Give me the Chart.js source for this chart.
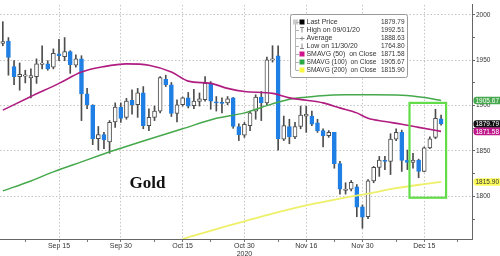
<!DOCTYPE html>
<html lang="en">
<head>
<meta charset="UTF-8">
<script src="https://cdn.jsdelivr.net/npm/chart.js"></script>
<title>Gold</title>
<style>
  html, body { margin: 0; padding: 0; background: #fff; }
  #wrap { width: 500px; height: 256px; }
</style>
</head>
<body>
<div id="wrap"><canvas id="myChart"></canvas></div>
<script>
// trading days on the axis (weekdays), the last week is empty
const days = [
  'Sep 1','Sep 2','Sep 3','Sep 4','Sep 7','Sep 8','Sep 9','Sep 10','Sep 11','Sep 14','Sep 15','Sep 16','Sep 17','Sep 18',
  'Sep 21','Sep 22','Sep 23','Sep 24','Sep 25','Sep 28','Sep 29','Sep 30',
  'Oct 1','Oct 2','Oct 5','Oct 6','Oct 7','Oct 8','Oct 9','Oct 12','Oct 13','Oct 14','Oct 15','Oct 16',
  'Oct 19','Oct 20','Oct 21','Oct 22','Oct 23','Oct 26','Oct 27','Oct 28','Oct 29','Oct 30',
  'Nov 2','Nov 3','Nov 4','Nov 5','Nov 6','Nov 9','Nov 10','Nov 11','Nov 12','Nov 13','Nov 16','Nov 17','Nov 18','Nov 19','Nov 20',
  'Nov 23','Nov 24','Nov 25','Nov 26','Nov 27','Nov 30',
  'Dec 1','Dec 2','Dec 3','Dec 4','Dec 7','Dec 8','Dec 9','Dec 10','Dec 11','Dec 14','Dec 15','Dec 16','Dec 17','Dec 18',
  'Dec 21','Dec 22','Dec 23','Dec 24','Dec 25'
];

const opens = [
  1968.5,1971,1943,1932,1932.5,1930.5,1932,1945.5,1946,1942.5,1957,1954,1959.5,1944.5,
  1951.5,1913,1900.5,1863.5,1868,1860,1882,1898.5,
  1887,1906,1901,1914,1878,1887,1894,1929,1923,1891.5,1901,1908.5,
  1900,1904.5,1906.5,1924.5,1904,1903.5,1903,1908.5,1877,1867.5,
  1878,1894,1909.5,1903,1950.5,1955,1863,1877,1865.5,1877,1888.5,1888.5,1881,1872.5,1867,
  1870.5,1836,1806.5,1808,1810.5,1788.5,
  1777.5,1817,1832,1840,1838.5,1863,1870.5,1840,1837.5,1840,1827.5,1853.5,1865,1885.5
];
const highs = [
  1992.5,1975,1949.5,1947,1939,1940.5,1951.5,1966,1949.5,1962.5,1973,1975,1960.5,1956,
  1955,1919,1901,1877,1870.5,1883.5,1903,1903,
  1908,1917.5,1919,1921,1896.5,1899.5,1932,1933.5,1925.5,1906.5,1909.5,1914.5,
  1918,1914,1932,1926.5,1910,1908.5,1910,1909,1880,1881.5,
  1894,1912,1915.5,1953.5,1966,1966,1888.5,1885,1881.5,1899.5,1899.5,1894,1885,1874.5,1872.5,
  1870.5,1838.5,1815,1817.5,1813,1790.5,
  1818.5,1833,1844,1844,1869,1874.5,1873,1851,1847.5,1841,1854.5,1865.5,1896,1889.5
];
const lows = [
  1966,1933.5,1923,1917,1925,1908.5,1924.5,1940.5,1939,1940.5,1949.5,1949.5,1935.5,1942.5,
  1883.5,1896.5,1857,1851,1852.5,1847.5,1876,1881.5,
  1885,1890.5,1887,1874.5,1872.5,1883.5,1892,1921,1888,1882,1899.5,1897.5,
  1896.5,1899.5,1905,1896,1894,1892,1901,1875,1861.5,1865,
  1872.5,1885,1883.5,1901,1948,1851,1861.5,1858,1863.5,1874.5,1870.5,1878,1870.5,1854.5,1865,
  1831,1802.5,1802.5,1806,1777.5,1764.8,
  1775.5,1815,1822,1829.5,1824,1861.5,1827.5,1829.5,1831,1820.5,1827,1852.5,1863.5,1878.5
];
const closes = [
  1970.5,1953,1932,1934.5,1934,1933,1946,1947,1940.5,1957.5,1955,1959.5,1945,1951.5,
  1913,1901,1863.5,1868,1862.5,1881.5,1898.5,1886,
  1905,1901,1914,1878,1887,1894,1931,1923,1891.5,1901,1908.5,1899.5,
  1905,1907.5,1924.5,1905,1903,1902.5,1907.5,1877,1868,1879.5,
  1892,1909.5,1903,1950.5,1951.5,1863.5,1878,1865.5,1877,1889.5,1890.5,1879.5,1872.5,1866.5,1870.5,
  1836,1808,1808,1815.5,1788,1777,
  1817,1832,1840,1838.5,1863,1870.5,1839.5,1837.5,1840,1827.5,1853.5,1863.5,1886,1879.79
];

// moving averages at a few dates
const sma50 = [
  {x:'Sep 1',y:1895},{x:'Sep 8',y:1910},{x:'Sep 15',y:1924.5},{x:'Sep 21',y:1937},{x:'Sep 25',y:1943},
  {x:'Oct 1',y:1946},{x:'Oct 7',y:1944.5},{x:'Oct 13',y:1937},{x:'Oct 16',y:1927},{x:'Oct 22',y:1924.5},
  {x:'Oct 27',y:1919},{x:'Oct 30',y:1915.5},{x:'Nov 6',y:1913.5},{x:'Nov 11',y:1908.5},{x:'Nov 16',y:1906},
  {x:'Nov 19',y:1903},{x:'Nov 24',y:1897.5},{x:'Nov 27',y:1892},{x:'Dec 1',y:1886},{x:'Dec 4',y:1882.5},
  {x:'Dec 9',y:1879.5},{x:'Dec 14',y:1876},{x:'Dec 18',y:1871.58}
];
const sma100 = [
  {x:'Sep 1',y:1806},{x:'Sep 8',y:1817},{x:'Sep 14',y:1827},{x:'Sep 21',y:1838},{x:'Sep 29',y:1851},
  {x:'Oct 7',y:1863},{x:'Oct 15',y:1874.5},{x:'Oct 23',y:1886},{x:'Oct 30',y:1892},{x:'Nov 4',y:1898},
  {x:'Nov 11',y:1907},{x:'Nov 18',y:1910.5},{x:'Nov 25',y:1912},{x:'Dec 2',y:1912},{x:'Dec 9',y:1911.5},
  {x:'Dec 15',y:1909},{x:'Dec 18',y:1905.67}
];
const sma200 = [
  {x:'Oct 15',y:1753},{x:'Oct 23',y:1764},{x:'Oct 30',y:1772.5},{x:'Nov 6',y:1781},{x:'Nov 16',y:1790},
  {x:'Nov 24',y:1797.5},{x:'Dec 1',y:1803},{x:'Dec 8',y:1809},{x:'Dec 15',y:1813.5},{x:'Dec 18',y:1815.9}
];

const priceTicks = [1775, 1800, 1825, 1850, 1875, 1900, 1925, 1950, 1975, 2000];
const majorDates = { 'Sep 15': 'Sep 15', 'Sep 30': 'Sep 30', 'Oct 15': 'Oct 15', 'Oct 30': ['Oct 30', '2020'],
  'Nov 16': 'Nov 16', 'Nov 30': 'Nov 30', 'Dec 15': 'Dec 15' };
const minorDates = ['Sep 7', 'Sep 22', 'Oct 8', 'Oct 22', 'Nov 9', 'Nov 23', 'Dec 8', 'Dec 23'];

const legendLabels = ['Last Price', 'High on 09/01/20', 'Average', 'Low on 11/30/20',
  'SMAVG (50)  on Close', 'SMAVG (100)  on Close', 'SMAVG (200)  on Close'];
const legendValues = ['1879.79', '1992.51', '1888.63', '1764.80', '1871.58', '1905.67', '1815.90'];
const tagValues = [1905.67, 1879.79, 1871.58, 1815.90];
const boxDates = ['Dec 11', 'Dec 18'];
const boxPrices = [1798.5, 1903];

const BLUE = '#1f7fe4';
const WICK = '#4d4d4d';
const MAGENTA = '#b01c80';
const GREEN = '#45a84c';
const YELLOW = '#eef06a';
const FONT = '"Liberation Sans", Arial, sans-serif';

const isUp = i => closes[i] >= opens[i];

const overlay = {
  id: 'overlay',
  afterDraw(chart) {
    const { ctx, scales: { x, y } } = chart;
    ctx.save();

    // green highlight around the last days
    const bx1 = x.getPixelForValue(days.indexOf(boxDates[0])) - 3.5;
    const bx2 = x.getPixelForValue(days.indexOf(boxDates[1])) + 5;
    const by1 = y.getPixelForValue(boxPrices[1]);
    const by2 = y.getPixelForValue(boxPrices[0]);
    ctx.strokeStyle = '#62dc48';
    ctx.lineWidth = 2.2;
    ctx.strokeRect(bx1, by1, bx2 - bx1, by2 - by1);

    // "Gold" title
    ctx.fillStyle = '#111';
    ctx.font = 'bold 17px "Liberation Serif", "Times New Roman", serif';
    ctx.textBaseline = 'alphabetic';
    ctx.textAlign = 'left';
    ctx.fillText('Gold', 129.5, 188);

    // legend box
    ctx.fillStyle = '#fff';
    ctx.strokeStyle = '#9a9a9a';
    ctx.lineWidth = 1;
    ctx.beginPath();
    ctx.roundRect(290.5, 14.5, 117, 63, 2);
    ctx.fill();
    ctx.stroke();

    ctx.strokeStyle = '#b5b5b5';
    ctx.beginPath();
    ctx.moveTo(295.5, 22);
    ctx.lineTo(295.5, 70);
    ctx.stroke();
    ctx.fillStyle = '#ccc';
    ctx.fillRect(293, 19.5, 5, 5);

    const swatch = ['#000', null, null, null, '#d0158c', '#2aa844', '#f7f740'];
    ctx.font = '7px ' + FONT;
    ctx.textBaseline = 'middle';
    legendLabels.forEach((label, i) => {
      const ry = 22 + i * 8;
      ctx.strokeStyle = '#b5b5b5';
      ctx.beginPath();
      ctx.moveTo(295.5, ry + 0.5);
      ctx.lineTo(299, ry + 0.5);
      ctx.stroke();
      if (swatch[i]) {
        ctx.fillStyle = swatch[i];
        ctx.fillRect(299.5, ry - 2.5, 5, 5);
      } else {
        ctx.strokeStyle = '#888';
        ctx.beginPath();
        if (i === 1) { ctx.moveTo(300, ry - 2.5); ctx.lineTo(304, ry - 2.5); ctx.moveTo(302, ry - 2.5); ctx.lineTo(302, ry + 2.5); }
        if (i === 2) { ctx.moveTo(299.5, ry + 0.5); ctx.lineTo(304.5, ry + 0.5); ctx.moveTo(302, ry - 1.5); ctx.lineTo(302, ry + 2.5); }
        if (i === 3) { ctx.moveTo(300, ry + 2.5); ctx.lineTo(304, ry + 2.5); ctx.moveTo(302, ry - 2.5); ctx.lineTo(302, ry + 2.5); }
        ctx.stroke();
      }
      ctx.fillStyle = '#333';
      ctx.textAlign = 'left';
      ctx.fillText(label, 306.5, ry + 0.5, i >= 4 ? 70 : 72);
      ctx.textAlign = 'right';
      ctx.fillText(legendValues[i], 404.5, ry + 0.5, 23.5);
    });

    // price tags on the right axis
    const tagFill = [GREEN, '#111', '#c0188a', '#fbfb5a'];
    const tagText = ['#fff', '#fff', '#fff', '#333'];
    ctx.font = '6.5px ' + FONT;
    ctx.textAlign = 'left';
    tagValues.forEach((v, i) => {
      const ty = y.getPixelForValue(v);
      ctx.fillStyle = tagFill[i];
      ctx.beginPath();
      ctx.roundRect(473.5, ty - 3.8, 30, 7.6, 3);
      ctx.fill();
      ctx.fillStyle = tagText[i];
      ctx.fillText(v.toFixed(2), 475.5, ty + 0.3);
    });

    ctx.restore();
  }
};

new Chart('myChart', {
  type: 'bar',
  data: {
    labels: days,
    datasets: [
      { type: 'line', data: sma50, borderColor: MAGENTA, borderWidth: 1.6, pointRadius: 0,
        cubicInterpolationMode: 'monotone', order: 0 },
      { type: 'line', data: sma100, borderColor: GREEN, borderWidth: 1.5, pointRadius: 0,
        cubicInterpolationMode: 'monotone', order: 0 },
      { type: 'line', data: sma200, borderColor: YELLOW, borderWidth: 1.8, pointRadius: 0,
        cubicInterpolationMode: 'monotone', order: 0 },
      { data: opens.map((o, i) => [o, closes[i]]), grouped: false, order: 1,
        barThickness: 4, minBarLength: 1, borderWidth: 1, borderSkipped: false,
        backgroundColor: c => isUp(c.dataIndex) ? '#fff' : BLUE,
        borderColor: c => isUp(c.dataIndex) ? WICK : BLUE },
      { data: lows.map((l, i) => [l, highs[i]]), grouped: false, order: 2,
        barThickness: 1, backgroundColor: WICK }
    ]
  },
  options: {
    responsive: true,
    maintainAspectRatio: false,
    animation: false,
    layout: { padding: 0 },
    plugins: { legend: { display: false }, tooltip: { enabled: false } },
    scales: {
      x: {
        offset: true,
        afterFit: s => { s.height = 17; },
        grid: {
          offset: false,
          color: c => majorDates[days[c.index]] ? '#c4c4c4' : 'rgba(0,0,0,0)',
          tickColor: c => (majorDates[days[c.index]] || minorDates.includes(days[c.index])) ? '#777' : 'rgba(0,0,0,0)',
          tickLength: 3
        },
        border: { color: '#666', dash: [1.5, 2] },
        ticks: {
          autoSkip: false, maxRotation: 0, padding: 0, color: '#333',
          font: { family: FONT, size: 7, lineHeight: 1.15 },
          callback: (v, i) => majorDates[days[i]] || ''
        }
      },
      y: {
        position: 'right',
        min: 1753,
        max: 2011,
        afterFit: s => { s.width = 28; },
        afterBuildTicks: s => { s.ticks = priceTicks.map(v => ({ value: v })); },
        grid: {
          color: c => c.tick && c.tick.value % 50 === 0 ? '#c4c4c4' : 'rgba(0,0,0,0)',
          tickColor: '#666',
          tickLength: 3
        },
        border: { color: '#666', dash: [1.5, 2] },
        ticks: {
          padding: 1, color: '#333',
          font: { family: FONT, size: 6.5 },
          callback: v => v % 50 === 0 ? v : ''
        }
      }
    }
  },
  plugins: [overlay]
});
</script>
</body>
</html>
